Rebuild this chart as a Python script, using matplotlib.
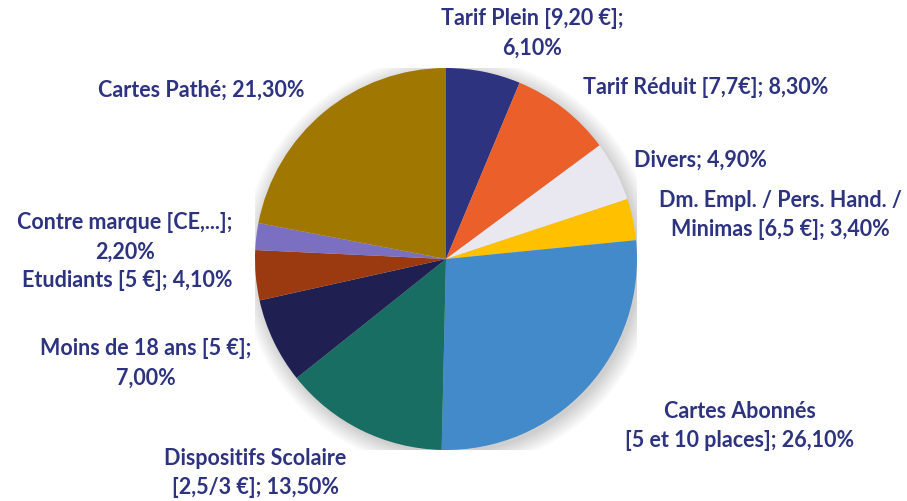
import matplotlib.pyplot as plt
from matplotlib.patches import Circle

# data
labels = [
    "Tarif Plein [9,20 €];\n6,10%",
    "Tarif Réduit [7,7€]; 8,30%",
    "Divers; 4,90%",
    "Dm. Empl. / Pers. Hand. /\nMinimas [6,5 €]; 3,40%",
    "Cartes Abonnés\n[5 et 10 places]; 26,10%",
    "Dispositifs Scolaire\n[2,5/3 €]; 13,50%",
    "Moins de 18 ans [5 €];\n7,00%",
    "Etudiants [5 €]; 4,10%",
    "Contre marque [CE,...];\n2,20%",
    "Cartes Pathé; 21,30%",
]
values = [6.1, 8.3, 4.9, 3.4, 26.1, 13.5, 7.0, 4.1, 2.2, 21.3]
colors = ["#2E3380", "#EA5F2A", "#E9E8F1", "#FFC000", "#428AC9",
          "#186E63", "#1F1F52", "#9B3A11", "#7B6FC2", "#A07700"]

# label centres in pixels (x, y from top)
label_pos = [(532, 33), (706, 88), (700, 160), (780, 215), (740, 426),
             (255, 473), (146, 363), (127, 281), (125, 237), (201, 90)]

W, H = 907, 502
fig = plt.figure(figsize=(W / 100, H / 100), dpi=100)

cx, cy, r = 446, 260, 191
ax = fig.add_axes([(cx - r) / W, (H - cy - r) / H, 2 * r / W, 2 * r / H])

# soft shadow
for k in range(8):
    ax.add_patch(Circle((0.015, -0.02), 1.0 + 0.012 * k, color="black",
                        alpha=0.025, lw=0, zorder=0))

ax.pie(values, colors=colors, startangle=90, counterclock=False,
       radius=1.0, wedgeprops=dict(linewidth=0, zorder=1))
ax.set_xlim(-1, 1)
ax.set_ylim(-1, 1)
ax.axis("off")

for txt, (x, y) in zip(labels, label_pos):
    fig.text(x / W, 1 - y / H, txt, ha="center", va="center",
             multialignment="center", fontsize=15.5, fontweight="bold",
             color="#2E3380", family="Lato", linespacing=1.5)

fig.savefig("out.png", dpi=100)
